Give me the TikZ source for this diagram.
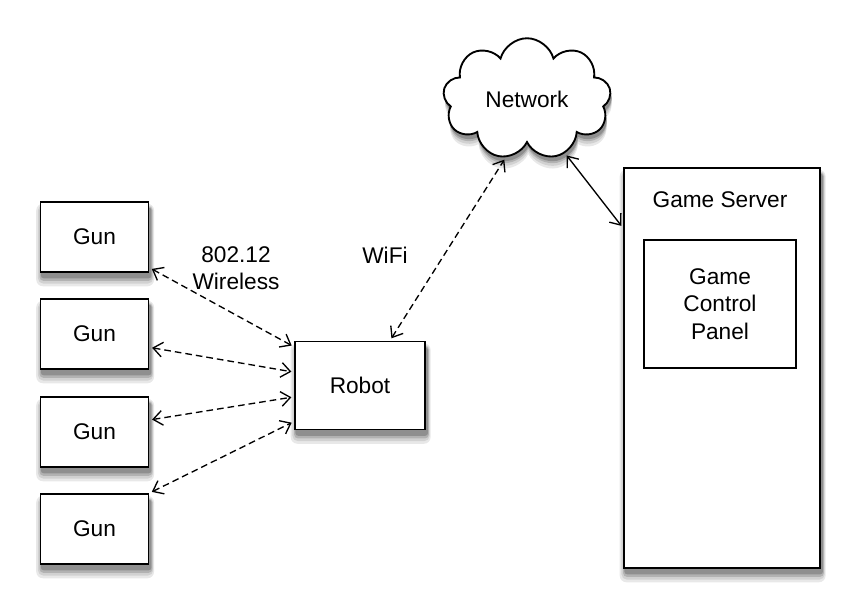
\documentclass[tikz,border=0pt]{standalone}
\usepackage{fontspec}
\setmainfont{Liberation Sans}
\usetikzlibrary{shapes.symbols,backgrounds,arrows.meta}

\begin{document}
\begin{tikzpicture}[x=0.75pt,y=-0.75pt,
    labelfont/.style={font=\fontsize{17}{20.5}\selectfont},
    box/.style={draw,line width=1.4pt,fill=white,labelfont},
    netcloud/.style={cloud,cloud puffs=9,aspect=1.4,minimum width=126pt,minimum height=88pt,labelfont},
    link/.style={line width=1pt,{Straight Barb[length=7pt,width=11pt]}-{Straight Barb[length=7pt,width=11pt]},shorten <=2pt,shorten >=2pt},
    wireless/.style={link,dash pattern=on 5pt off 3pt}]

      \useasboundingbox (0,0) rectangle (857,613);

      \begin{scope}[every node/.style={box}]
        \node[minimum width=81pt,minimum height=52.5pt] (gun1) at (94.5,237) {Gun};
        \node[minimum width=81pt,minimum height=52.5pt] (gun2) at (94.5,334) {Gun};
        \node[minimum width=81pt,minimum height=52.5pt] (gun3) at (94.5,432) {Gun};
        \node[minimum width=81pt,minimum height=52.5pt] (gun4) at (94.5,529) {Gun};
        \node[minimum width=97.5pt,minimum height=66pt] (robot) at (360,385.5) {Robot};
        \node[minimum width=147pt,minimum height=300pt] (server) at (722,368) {};
        \node[netcloud] (network) at (527,99) {Network};
      \end{scope}

      \node[box,minimum width=114pt,minimum height=96pt,align=center] (panel) at (720,304) {Game\\Control\\Panel};
      \node[labelfont] (servertitle) at (720,200) {Game Server};

      \begin{scope}[every node/.style={labelfont,align=center}]
        \node (wlabel) at (236,268) {802.12\\Wireless};
        \node (wifilabel) at (385,255) {WiFi};
      \end{scope}

      % soft shadows
      \begin{scope}[on background layer]
        \foreach \b in {gun1,gun2,gun3,gun4,robot,server} {
          \fill[black!9,rounded corners=5pt] ([shift={(-2.5pt,-10pt)}]\b.south west) rectangle ([shift={(3.5pt,-2pt)}]\b.north east);
          \fill[black!18,rounded corners=4pt] ([shift={(-1.2pt,-8pt)}]\b.south west) rectangle ([shift={(2.8pt,-3pt)}]\b.north east);
          \fill[black!30,rounded corners=3pt] ([shift={(0pt,-6pt)}]\b.south west) rectangle ([shift={(2.2pt,-4pt)}]\b.north east);
          \fill[black!44,rounded corners=2pt] ([shift={(1pt,-4pt)}]\b.south west) rectangle ([shift={(1.5pt,-5pt)}]\b.north east);
        }
        \foreach \d/\c in {9/9,7/18,5/30,3.5/44}
          \node[netcloud,fill=black!\c] at ([shift={(1pt,-\d pt)}]network.center) {\phantom{Network}};
      \end{scope}

      \draw[wireless] ([yshift=-23pt]gun1.east) -- ([yshift=29pt]robot.west);
      \draw[wireless] ([yshift=-10pt]gun2.east) -- ([yshift=10pt]robot.west);
      \draw[wireless] ([yshift=9pt]gun3.east) -- ([yshift=-8.5pt]robot.west);
      \draw[wireless] (gun4.north east) -- ([yshift=-27pt]robot.west);
      \draw[wireless] ([xshift=22.5pt]robot.north) -- (network.250);
      \draw[link] (network.305) -- ([yshift=105pt]server.west);

    \end{tikzpicture}
\end{document}
